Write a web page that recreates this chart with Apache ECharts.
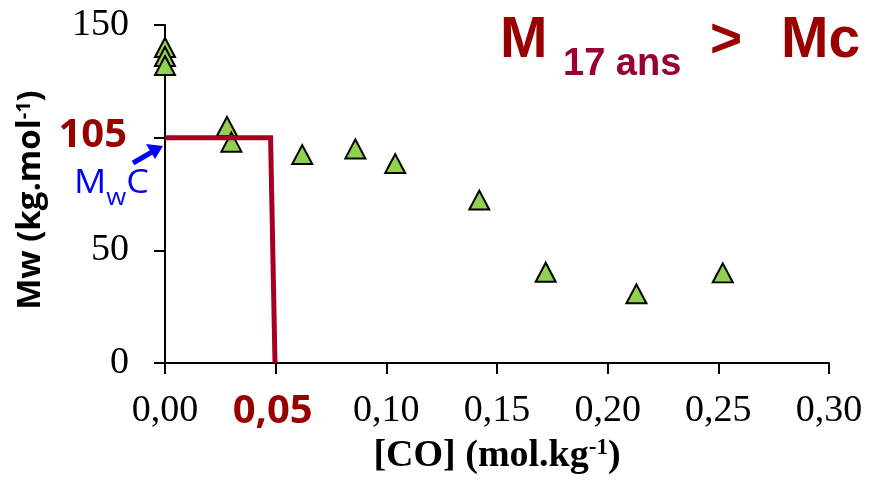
<!DOCTYPE html>
<html>
<head>
<meta charset="utf-8">
<script src="https://cdn.jsdelivr.net/npm/echarts@6/dist/echarts.min.js"></script>
<style>
html,body{margin:0;padding:0;background:#fff;}
#chart{width:871px;height:480px;}
</style>
</head>
<body>
<div id="chart"></div>
<script>
// Data
const coValues = [0, 0, 0, 0.028, 0.030, 0.062, 0.086, 0.104, 0.142, 0.172, 0.213, 0.252];
const mwValues = [140, 136, 132, 105, 98, 92.5, 95, 88.5, 72.3, 40.3, 30.7, 40];
// Critical step line (Mwc plateau and [CO] cut-off)
const stepX = [0, 0.0477, 0.0497];
const stepY = [100, 100, 0];
const xTicks = [0, 0.05, 0.10, 0.15, 0.20, 0.25, 0.30];
const yTicks = [0, 50, 100, 150];
const highlightX = 0.05;
const highlightY = 100;
const highlightYLabel = '105';

const points = coValues.map((x, i) => [x, mwValues[i]]);
const step = stepX.map((x, i) => [x, stepY[i]]);

const chart = echarts.init(document.getElementById('chart'));
const darkRed = '#990000';
chart.setOption({
  animation: false,
  backgroundColor: '#ffffff',
  grid: { left: 165, right: 42, top: 25, bottom: 116 },
  xAxis: {
    type: 'value',
    min: xTicks[0], max: xTicks[xTicks.length - 1], interval: 0.05,
    splitLine: { show: false },
    axisLine: { show: true, onZero: false, lineStyle: { color: '#000', width: 2 } },
    axisTick: { show: true, inside: false, length: 11, lineStyle: { color: '#000', width: 2 } },
    axisLabel: {
      margin: 29,
      fontFamily: 'Liberation Serif', fontSize: 38, color: '#000',
      formatter: v => {
        const s = v.toFixed(2).replace('.', ',');
        return Math.abs(v - highlightX) < 1e-9 ? '{r|' + s + '}' : s;
      },
      rich: { r: { fontFamily: 'Open Sans', fontWeight: 'bold', fontSize: 40, color: darkRed, padding: [0, 6, 0, 0] } }
    },
    name: '{t|[CO] (mol.kg}{s|-1}{t|)}',
    nameLocation: 'middle',
    nameGap: 74,
    nameTextStyle: {
      rich: {
        t: { fontFamily: 'Liberation Serif', fontWeight: 'bold', fontSize: 38, color: '#000', lineHeight: 38 },
        s: { fontFamily: 'Liberation Serif', fontWeight: 'bold', fontSize: 23, color: '#000', verticalAlign: 'top', lineHeight: 38 }
      }
    }
  },
  yAxis: {
    type: 'value',
    min: yTicks[0], max: yTicks[yTicks.length - 1], interval: 50,
    splitLine: { show: false },
    axisLine: { show: true, lineStyle: { color: '#000', width: 2 } },
    axisTick: { show: true, length: 11, lineStyle: { color: '#000', width: 2 } },
    axisLabel: {
      margin: 36,
      fontFamily: 'Liberation Serif', fontSize: 38, color: '#000',
      formatter: v => (Math.abs(v - highlightY) < 1e-9 ? '{r|' + highlightYLabel + '}' : String(v)),
      rich: { r: { fontFamily: 'Open Sans', fontWeight: 'bold', fontSize: 40, color: darkRed, padding: [0, 2, 4, 0] } }
    },
    name: '{t|Mw (kg.mol}{s|-1}{t|)}',
    nameLocation: 'middle',
    nameRotate: 90,
    nameGap: 110,
    nameTextStyle: {
      padding: [0, 0, 0, -12],
      rich: {
        t: { fontFamily: 'Open Sans', fontWeight: 'bold', fontSize: 33, color: '#000', lineHeight: 34 },
        s: { fontFamily: 'Open Sans', fontWeight: 'bold', fontSize: 20, color: '#000', verticalAlign: 'top', lineHeight: 34 }
      }
    }
  },
  series: [
    {
      type: 'scatter',
      data: points,
      symbol: 'triangle',
      symbolSize: [20, 19],
      itemStyle: { color: '#92D050', borderColor: '#000', borderWidth: 2, opacity: 1 },
      z: 2
    },
    {
      type: 'line',
      data: step,
      symbol: 'none',
      lineStyle: { color: '#A50021', width: 5, cap: 'butt', join: 'miter' },
      z: 3
    }
  ],
  graphic: [
    { type: 'text', left: 500, top: 13, style: { text: 'M', fontFamily: 'Liberation Sans', fontWeight: 'bold', fontSize: 57, fill: darkRed } },
    { type: 'text', left: 563, top: 46, style: { text: '17 ans', fontFamily: 'Liberation Sans', fontWeight: 'bold', fontSize: 38, fill: '#990033' } },
    { type: 'text', left: 710, top: 14, style: { text: '>', fontFamily: 'Liberation Sans', fontWeight: 'bold', fontSize: 55, fill: darkRed } },
    { type: 'text', left: 781, top: 13, style: { text: 'Mc', fontFamily: 'Liberation Sans', fontWeight: 'bold', fontSize: 57, fill: darkRed } },
    {
      type: 'text', x: 74, y: 168, scaleX: 1.12,
      style: {
        text: '{m|M}{w|w}{c|C}',
        rich: {
          m: { fontFamily: 'Open Sans', fontSize: 32, fill: '#0000FF', lineHeight: 42, verticalAlign: 'top' },
          w: { fontFamily: 'Open Sans', fontSize: 23, fill: '#0000FF', lineHeight: 42, verticalAlign: 'bottom' },
          c: { fontFamily: 'Open Sans', fontSize: 32, fill: '#0000FF', lineHeight: 42, verticalAlign: 'top' }
        }
      }
    },
    { type: 'line', shape: { x1: 133, y1: 163, x2: 152, y2: 152 }, style: { stroke: '#0000FF', lineWidth: 5 } },
    { type: 'polygon', shape: { points: [[163, 146], [146, 144], [155, 159]] }, style: { fill: '#0000FF' } }
  ]
});
</script>
</body>
</html>
